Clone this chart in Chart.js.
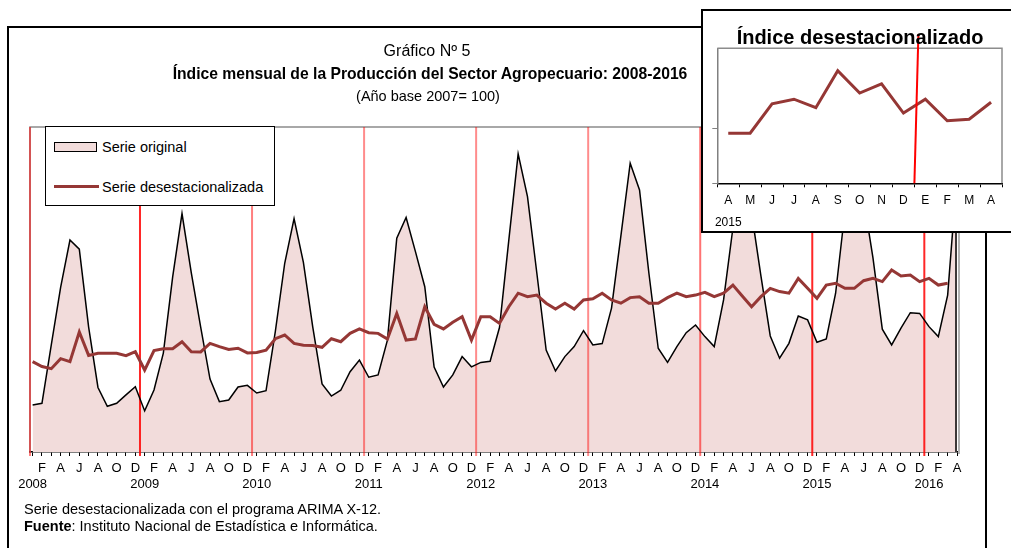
<!DOCTYPE html>
<html>
<head>
<meta charset="utf-8">
<title>Índice mensual de la Producción del Sector Agropecuario</title>
<script src="https://cdn.jsdelivr.net/npm/chart.js@4.4.1/dist/chart.umd.min.js"></script>
<style>
  body { margin: 0; background: #fff; font-family: "Liberation Sans", Arial, sans-serif; }
  #page { position: relative; width: 1011px; height: 548px; overflow: hidden; background: #fff; }
  canvas { position: absolute; }
  .frame { position: absolute; left: 7px; top: 26px; width: 980px; height: 600px; border: 2px solid #000; box-sizing: border-box; }
  .txt { position: absolute; white-space: nowrap; color: #000; line-height: 1; }
  .mid { transform: translate(-50%, -50%); }
  .left { transform: translate(0, -50%); }
  .legend { position: absolute; left: 45px; top: 126px; width: 230px; height: 80px; border: 1.5px solid #000; background: #fff; box-sizing: border-box; }
  .swatch-fill { position: absolute; left: 54px; top: 142px; width: 43px; height: 10px; background: #F2DCDB; border: 1px solid #000; box-sizing: border-box; }
  .swatch-line { position: absolute; left: 54px; top: 185px; width: 45px; height: 3px; background: #953735; }
  .inset { position: absolute; left: 701px; top: 9px; width: 330px; height: 224px; border: 2px solid #000; background: #fff; box-sizing: border-box; }
</style>
</head>
<body>
<div id="page">
  <div class="frame"></div>
  <canvas id="main" width="1011" height="548" style="left:0;top:0"></canvas>

  <div class="txt mid" style="left:427px;top:51px;font-size:16px">Gráfico Nº 5</div>
  <div class="txt mid" style="left:430px;top:74px;font-size:15.7px;font-weight:bold">Índice mensual de la Producción del Sector Agropecuario: 2008-2016</div>
  <div class="txt mid" style="left:428px;top:96px;font-size:14.5px">(Año base 2007= 100)</div>

  <div class="legend"></div>
  <div class="swatch-fill"></div>
  <div class="txt left" style="left:102px;top:147px;font-size:14.5px">Serie original</div>
  <div class="swatch-line"></div>
  <div class="txt left" style="left:102px;top:187px;font-size:14.5px">Serie desestacionalizada</div>

  <div class="txt left" style="left:24px;top:509px;font-size:14.5px">Serie desestacionalizada con el programa ARIMA X-12.</div>
  <div class="txt left" style="left:24px;top:526px;font-size:14.5px"><b>Fuente</b>: Instituto Nacional de Estadística e Informática.</div>

  <div class="inset"></div>
  <canvas id="inset" width="308" height="220" style="left:703px;top:11px"></canvas>
  <div class="txt mid" style="left:860px;top:37px;font-size:20px;font-weight:bold">Índice desestacionalizado</div>
</div>

<script>
// monthly data, Jan 2008 .. Apr 2016 (base 2007 = 100)
const monthLetters = ['', 'F', '', 'A', '', 'J', '', 'A', '', 'O', '', 'D'];
const years = ['2008', '2009', '2010', '2011', '2012', '2013', '2014', '2015', '2016'];

const original = [
  80.2, 81.0, 106.1, 130.9, 151.3, 147.4, 113.8, 87.8, 79.7, 81.0, 84.6, 88.1,
  77.7, 86.7, 102.6, 135.4, 162.7, 137.1, 113.8, 91.4, 81.7, 82.4, 88.0, 88.7,
  85.4, 86.4, 112.1, 141.3, 160.5, 141.7, 113.9, 89.3, 84.1, 86.6, 94.6, 99.6,
  92.2, 93.2, 108.2, 152.1, 161.0, 146.3, 131.2, 96.6, 88.0, 93.2, 101.1, 96.7,
  98.6, 99.1, 113.6, 151.3, 188.4, 170.0, 137.1, 103.9, 94.9, 101.1, 105.4, 112.3,
  106.1, 106.7, 122.0, 153.0, 184.4, 172.9, 137.1, 104.7, 98.6, 105.4, 111.4, 114.7,
  109.7, 105.4, 125.5, 156.5, 183.6, 163.0, 135.9, 110.0, 100.4, 106.8, 118.6, 116.9,
  107.3, 108.7, 128.4, 163.8, 190.1, 169.0, 143.6, 112.9, 106.1, 113.4, 120.0, 119.7,
  114.0, 109.7, 127.6, 179.3
];

const desest = [
  98.9, 96.8, 95.9, 100.2, 98.9, 111.7, 101.6, 102.5, 102.5, 102.5, 101.5, 103.2,
  95.3, 103.7, 104.5, 104.5, 107.5, 103.2, 103.1, 106.8, 105.4, 104.2, 104.7, 102.7,
  102.9, 103.9, 108.8, 110.4, 106.8, 106.0, 105.9, 105.1, 108.8, 107.5, 111.1, 113.0,
  111.4, 111.1, 108.7, 119.7, 108.2, 108.7, 122.6, 115.0, 113.0, 115.9, 118.3, 108.2,
  118.3, 118.3, 115.4, 122.6, 128.4, 126.9, 127.6, 124.1, 121.6, 124.1, 121.6, 125.5,
  126.0, 128.4, 125.5, 124.1, 126.5, 126.9, 124.1, 124.1, 126.5, 128.4, 126.9, 127.6,
  128.8, 126.9, 128.4, 131.9, 127.2, 122.6, 126.9, 130.5, 129.1, 128.4, 134.8, 130.5,
  126.2, 131.9, 132.7, 130.5, 130.5, 133.8, 134.8, 133.4, 138.4, 135.8, 136.2, 133.4,
  134.8, 131.9, 132.7, null
];

// inset: Apr 2015 .. Apr 2016
const insetMonths = ['A', 'M', 'J', 'J', 'A', 'S', 'O', 'N', 'D', 'E', 'F', 'M', 'A'];
const insetYear = '2015';
const insetValues = [130.5, 130.5, 134.3, 134.9, 133.8, 138.6, 135.7, 136.9, 133.1, 134.9, 132.1, 132.3, 134.5];

const yearLineAlpha = [0.5, 0.85, 0.5, 0.45, 0.45, 0.45, 0.55, 0.85, 0.85];

Chart.defaults.font.family = "'Liberation Sans', Arial, sans-serif";
Chart.defaults.color = '#000';

const idx = original.map((_, i) => i);

const yearLines = {
  id: 'yearLines',
  beforeDatasetsDraw(chart) {
    const { ctx, chartArea: a, scales: { x } } = chart;
    ctx.save();
    ctx.strokeStyle = '#8c8c8c';
    ctx.lineWidth = 1.5;
    ctx.beginPath();
    ctx.moveTo(a.left, a.bottom);
    ctx.lineTo(a.left, a.top);
    ctx.lineTo(a.right, a.top);
    ctx.stroke();
    years.forEach((yr, k) => {
      const px = Math.max(x.getPixelForValue(k * 12 - 0.5), a.left);
      ctx.strokeStyle = `rgba(255,0,0,${yearLineAlpha[k]})`;
      ctx.lineWidth = 2;
      ctx.beginPath();
      ctx.moveTo(px, a.top);
      ctx.lineTo(px, a.bottom + 4);
      ctx.stroke();
    });
    ctx.restore();
  },
  afterDatasetsDraw(chart) {
    const { ctx, chartArea: a } = chart;
    ctx.save();
    ctx.strokeStyle = '#000';
    ctx.lineWidth = 1.5;
    ctx.beginPath();
    ctx.moveTo(a.right - 1, a.top);
    ctx.lineTo(a.right - 1, a.bottom);
    ctx.stroke();
    ctx.strokeStyle = '#999';
    ctx.beginPath();
    ctx.moveTo(a.right + 2, a.top);
    ctx.lineTo(a.right + 2, a.bottom + 2);
    ctx.stroke();
    ctx.restore();
  }
};

new Chart(document.getElementById('main'), {
  type: 'line',
  data: {
    labels: idx,
    datasets: [
      {
        label: 'Serie original',
        data: original,
        borderColor: '#000',
        borderWidth: 1.5,
        backgroundColor: '#F2DCDB',
        fill: 'start',
        pointRadius: 0,
        tension: 0,
        order: 2
      },
      {
        label: 'Serie desestacionalizada',
        data: desest,
        borderColor: '#953735',
        borderWidth: 3,
        fill: false,
        pointRadius: 0,
        tension: 0,
        order: 1
      }
    ]
  },
  options: {
    responsive: false,
    animation: false,
    devicePixelRatio: 1,
    layout: { padding: { left: 30, right: 54, top: 127, bottom: 56 } },
    plugins: {
      legend: { display: false },
      tooltip: { enabled: false },
      filler: { drawTime: 'beforeDatasetsDraw' }
    },
    scales: {
      x: {
        type: 'linear',
        min: -0.28,
        max: 99,
        afterBuildTicks: (s) => { s.ticks = idx.map((v) => ({ value: v })); },
        afterFit: (s) => { s.height = 40; },
        ticks: {
          autoSkip: false,
          maxRotation: 0,
          padding: 5,
          font: { size: 13, lineHeight: 1.2 },
          callback: (v) => [monthLetters[v % 12], v % 12 === 0 ? years[v / 12] : '']
        },
        grid: { drawOnChartArea: false, tickLength: 4, color: '#000' },
        border: { color: '#000', width: 1.5 }
      },
      y: { display: false, min: 60, max: 200 }
    }
  },
  plugins: [yearLines]
});

const insetDecor = {
  id: 'insetDecor',
  beforeDatasetsDraw(chart) {
    const { ctx, chartArea: a } = chart;
    ctx.save();
    ctx.strokeStyle = '#8c8c8c';
    ctx.lineWidth = 1.5;
    ctx.beginPath();
    ctx.moveTo(a.left, a.top);
    ctx.lineTo(a.right, a.top);
    ctx.lineTo(a.right, a.bottom);
    ctx.stroke();
    ctx.restore();
  },
  afterDatasetsDraw(chart) {
    const { ctx, chartArea: a, scales: { x } } = chart;
    const px = x.getPixelForValue(8.5);
    ctx.save();
    ctx.strokeStyle = '#ff0000';
    ctx.lineWidth = 2;
    ctx.beginPath();
    ctx.moveTo(px + 4, 23);
    ctx.lineTo(px, a.bottom);
    ctx.stroke();
    ctx.restore();
  }
};

new Chart(document.getElementById('inset'), {
  type: 'line',
  data: {
    labels: insetMonths,
    datasets: [{
      label: 'Índice desestacionalizado',
      data: insetValues,
      borderColor: '#953735',
      borderWidth: 3,
      pointRadius: 0,
      tension: 0,
      fill: false
    }]
  },
  options: {
    responsive: false,
    animation: false,
    devicePixelRatio: 1,
    layout: { padding: { left: 8.3, right: 9, top: 37.3, bottom: 2 } },
    plugins: { legend: { display: false }, tooltip: { enabled: false } },
    scales: {
      x: {
        offset: true,
        afterFit: (s) => { s.height = 220 - 172.3 - 2; },
        ticks: {
          autoSkip: false,
          maxRotation: 0,
          padding: 2,
          font: { size: 12, lineHeight: 1.83 },
          callback: (v, i) => [insetMonths[i], i === 0 ? insetYear : '']
        },
        grid: { offset: true, drawOnChartArea: false, tickLength: 4, color: '#000' },
        border: { color: '#000', width: 1.5 }
      },
      y: {
        min: 124,
        max: 141.5,
        afterBuildTicks: (s) => { s.ticks = [{ value: 124 }, { value: 131.1 }]; },
        afterFit: (s) => { s.width = 6; },
        ticks: { display: false },
        grid: { drawOnChartArea: false, tickLength: 5, color: '#808080' },
        border: { color: '#808080', width: 1.5 }
      }
    }
  },
  plugins: [insetDecor]
});
</script>
</body>
</html>
